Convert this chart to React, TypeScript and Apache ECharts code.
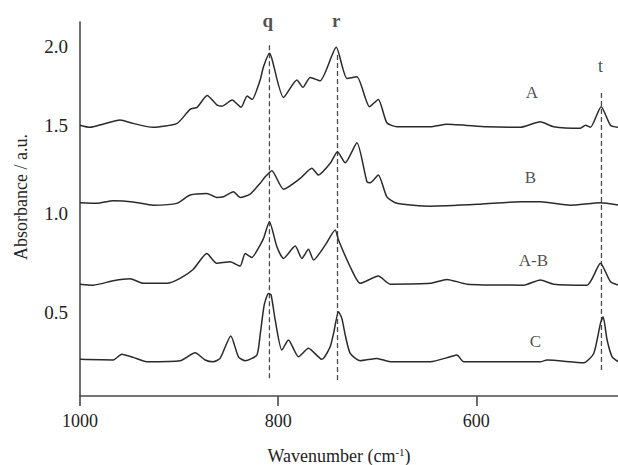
import React, { useEffect, useRef } from "react";
import * as echarts from "echarts";

// Spectra: [wavenumber (cm-1), absorbance (a.u., offset)]
const spectrumA: [number, number][] = [
  [1000, 1.444], [989.9, 1.433], [976.8, 1.449], [959.6, 1.47], [946.5, 1.453],
  [926.3, 1.433], [902.0, 1.453], [888.9, 1.524], [881.8, 1.534], [871.7, 1.594],
  [861.6, 1.545], [856.6, 1.54], [846.5, 1.571], [837.4, 1.534], [831.3, 1.591],
  [826.3, 1.574], [818.2, 1.672], [814.8, 1.739], [808.8, 1.807], [806.4, 1.781],
  [794.6, 1.584], [781.1, 1.672], [775.1, 1.635], [767.7, 1.685], [757.6, 1.668],
  [741.4, 1.837], [730.6, 1.68], [720.5, 1.688], [707.8, 1.537], [698.9, 1.574],
  [690.3, 1.456], [680.1, 1.436], [646.5, 1.436], [629.6, 1.449], [589.2, 1.436],
  [555.6, 1.433], [535.4, 1.461], [521.9, 1.436], [494.9, 1.428], [489.9, 1.444],
  [484.8, 1.433], [474.0, 1.537], [464.6, 1.444], [456.6, 1.433],
];

const spectrumB: [number, number][] = [
  [1000, 1.052], [983.1, 1.049], [966.4, 1.062], [946.2, 1.056], [926.0, 1.04],
  [902.3, 1.049], [888.9, 1.091], [872.0, 1.099], [862.0, 1.079], [855.3, 1.082],
  [845.1, 1.108], [838.4, 1.079], [828.3, 1.096], [818.2, 1.15], [813.1, 1.183],
  [806.4, 1.214], [794.6, 1.12], [777.8, 1.175], [766.0, 1.226], [759.3, 1.192],
  [747.5, 1.251], [740.1, 1.31], [732.3, 1.254], [720.5, 1.355], [710.4, 1.158],
  [707.1, 1.153], [698.9, 1.192], [690.3, 1.082], [680.1, 1.049], [646.5, 1.035],
  [596.0, 1.045], [555.6, 1.057], [535.4, 1.057], [505.0, 1.04], [474.7, 1.052],
  [456.6, 1.04],
];

const spectrumAminusB: [number, number][] = [
  [1000, 0.641], [986.6, 0.636], [966.4, 0.658], [949.5, 0.668], [936.1, 0.645],
  [912.4, 0.645], [899.0, 0.67], [885.6, 0.716], [872.0, 0.796], [862.0, 0.746],
  [848.5, 0.754], [838.4, 0.732], [833.3, 0.796], [826.6, 0.776], [818.2, 0.838],
  [814.8, 0.872], [808.8, 0.956], [801.3, 0.83], [794.6, 0.771], [782.8, 0.833],
  [776.1, 0.771], [769.4, 0.817], [764.3, 0.763], [752.5, 0.838], [742.4, 0.914],
  [739.1, 0.864], [727.3, 0.729], [717.2, 0.645], [698.9, 0.682], [686.9, 0.641],
  [646.5, 0.645], [629.6, 0.665], [609.4, 0.641], [552.2, 0.636], [535.4, 0.662],
  [521.9, 0.641], [488.2, 0.636], [474.7, 0.746], [464.6, 0.653], [456.6, 0.636],
];

const spectrumC: [number, number][] = [
  [1000, 0.261], [966.4, 0.258], [957.9, 0.287], [946.2, 0.271], [932.6, 0.249],
  [899.0, 0.254], [883.8, 0.294], [873.7, 0.258], [865.4, 0.249], [858.6, 0.266],
  [847.8, 0.379], [840.1, 0.274], [833.3, 0.254], [821.5, 0.283], [818.2, 0.384],
  [814.1, 0.535], [809.8, 0.594], [807.1, 0.586], [803.0, 0.46], [796.3, 0.308],
  [789.6, 0.359], [779.5, 0.274], [769.4, 0.317], [755.9, 0.261], [747.5, 0.325],
  [744.1, 0.392], [739.1, 0.502], [735.7, 0.468], [732.3, 0.384], [727.3, 0.291],
  [717.2, 0.254], [700.3, 0.266], [686.9, 0.249], [646.5, 0.249], [626.3, 0.274],
  [619.5, 0.283], [612.8, 0.249], [535.4, 0.249], [528.6, 0.258], [491.6, 0.244],
  [481.5, 0.291], [474.7, 0.443], [472.0, 0.476], [468.0, 0.359], [462.9, 0.274],
  [456.6, 0.249],
];

// Dashed marker lines (q, r, t)
const markerNames = ["q", "r", "t"];
const markerWavenumbers = [808.8, 740.1, 473.7];
const markerTop = [1.848, 1.798, 1.606];
const markerBottom = [0.157, 0.15, 0.192];
const markerLabelWavenumbers = [810.5, 741.5, 474.7];
const markerLabelAbs = [1.975, 1.975, 1.742];
const markerLabelBold = [true, true, false];

// Spectrum labels
const spectrumNames = ["A", "B", "A-B", "C"];
const spectrumLabelWavenumbers = [543.9, 545.5, 542.4, 540.4];
const spectrumLabelAbs = [1.609, 1.182, 0.758, 0.351];

// Axis ticks
const xTickValues = [1000, 800, 600];
const yTickValues = [0.5, 1.0, 1.444, 1.84];
const yTickLabels = ["0.5", "1.0", "1.5", "2.0"];

const FONT = "'Liberation Serif', 'Times New Roman', serif";
const LINE = "#2a2a2a";
const AXIS = "#4a4a4a";

export default function App() {
  const ref = useRef<HTMLDivElement>(null);

  useEffect(() => {
    if (!ref.current) return;
    const chart = echarts.init(ref.current, null, { renderer: "svg" });

    const spectra = [spectrumA, spectrumB, spectrumAminusB, spectrumC];

    const spectrumSeries = spectra.map((d, i) => ({
      type: "line",
      name: spectrumNames[i],
      data: d,
      symbol: "none",
      smooth: 0.2,
      lineStyle: { color: LINE, width: 1.5 },
      z: 3,
    }));

    const markerSeries = markerWavenumbers.map((w, i) => ({
      type: "line",
      name: "marker-" + markerNames[i],
      data: [
        [w, markerTop[i]],
        [w, markerBottom[i]],
      ],
      symbol: "none",
      lineStyle: { color: AXIS, width: 1.3, type: [5, 3] },
      z: 2,
    }));

    const labelSeries = {
      type: "scatter",
      symbolSize: 0,
      silent: true,
      clip: false,
      data: [
        ...markerNames.map((n, i) => ({
          name: n,
          value: [markerLabelWavenumbers[i], markerLabelAbs[i]],
          label: {
            fontWeight: markerLabelBold[i] ? "bold" : "normal",
            fontSize: markerLabelBold[i] ? 19 : 18,
          },
        })),
        ...spectrumNames.map((n, i) => ({
          name: n,
          value: [spectrumLabelWavenumbers[i], spectrumLabelAbs[i]],
        })),
      ],
      label: {
        show: true,
        position: "inside",
        formatter: (p: any) => p.name,
        fontFamily: FONT,
        fontSize: 17,
        color: "#222",
      },
      z: 4,
    };

    chart.setOption({
      animation: false,
      backgroundColor: "#fff",
      grid: {
        left: 80,
        right: 0,
        top: 22,
        bottom: 69,
        containLabel: false,
        outerBoundsMode: "none",
      },
      xAxis: {
        type: "value",
        inverse: true,
        min: 457,
        max: 1000,
        axisLine: { show: true, onZero: false, lineStyle: { color: AXIS, width: 1.6 } },
        axisTick: {
          show: true,
          inside: false,
          length: 10,
          customValues: xTickValues,
          lineStyle: { color: AXIS, width: 1.6 },
        },
        axisLabel: {
          customValues: xTickValues,
          formatter: (v: number) => String(v),
          margin: 16,
          fontFamily: FONT,
          fontSize: 18,
          color: "#222",
        },
        splitLine: { show: false },
      },
      yAxis: {
        type: "value",
        min: 0.076,
        max: 1.965,
        axisLine: { show: true, onZero: false, lineStyle: { color: AXIS, width: 1.6 } },
        axisTick: { show: false },
        axisLabel: {
          customValues: yTickValues,
          formatter: (v: number) => {
            const i = yTickValues.findIndex((t) => Math.abs(t - v) < 1e-6);
            return i >= 0 ? yTickLabels[i] : "";
          },
          margin: 12,
          fontFamily: FONT,
          fontSize: 19,
          color: "#222",
        },
        splitLine: { show: false },
      },
      graphic: [
        {
          type: "text",
          x: 21,
          y: 197,
          rotation: Math.PI / 2,
          style: {
            text: "Absorbance / a.u.",
            font: `18px ${FONT}`,
            fill: "#222",
            align: "center",
            verticalAlign: "middle",
          },
        },
        {
          type: "text",
          x: 339,
          y: 456,
          style: {
            text: "Wavenumber (cm{sup|-1})",
            font: `18px ${FONT}`,
            fill: "#222",
            align: "center",
            verticalAlign: "middle",
            rich: {
              sup: {
                fontSize: 11,
                fontFamily: FONT,
                verticalAlign: "top",
                padding: [0, 0, 8, 0],
              },
            },
          },
        },
      ],
      series: [...markerSeries, ...spectrumSeries, labelSeries],
    });

    return () => chart.dispose();
  }, []);

  return (
    <div
      ref={ref}
      style={{ position: "absolute", left: 0, top: 0, width: 618, height: 465 }}
    />
  );
}
